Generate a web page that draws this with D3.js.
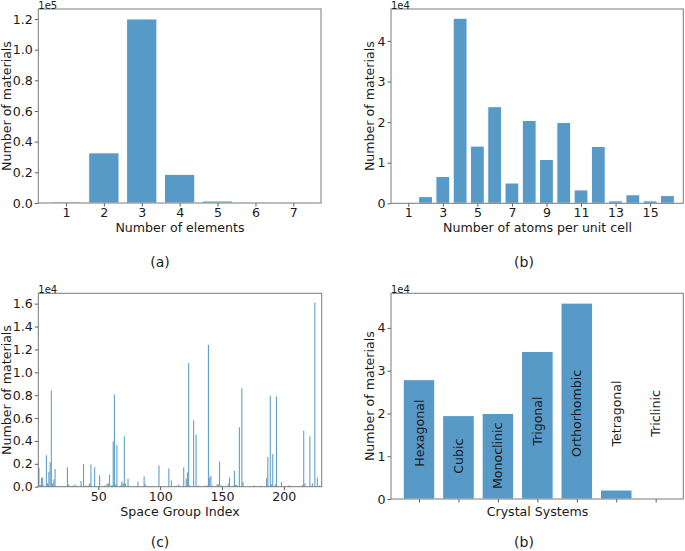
<!DOCTYPE html>
<html>
<head>
<meta charset="utf-8">
<script src="https://cdn.jsdelivr.net/npm/d3@7"></script>
<style>
  html, body { margin: 0; padding: 0; background: #fff; }
  svg { display: block; }
  text { font-family: "DejaVu Sans", sans-serif; fill: #1a1a1a; }
</style>
</head>
<body>
<svg id="chart" width="685" height="551"></svg>
<script>
// ---------------- DATA ----------------
// (a) number of elements
const elementCats = [1, 2, 3, 4, 5, 6, 7];
const elementCounts = [800, 32700, 120000, 18700, 1300, 100, 20];
const elementYTicks = [0, 20000, 40000, 60000, 80000, 100000, 120000];

// (b) number of atoms per unit cell
const atomCats = [1, 2, 3, 4, 5, 6, 7, 8, 9, 10, 11, 12, 13, 14, 15, 16];
const atomCounts = [200, 1650, 6600, 45600, 14100, 23800, 5000, 20400, 10800, 19900, 3300, 14000, 600, 2100, 600, 1900];
const atomXTicks = [1, 3, 5, 7, 9, 11, 13, 15];
const atomYTicks = [0, 10000, 20000, 30000, 40000];

// (c) space group index
const sgIndex = [2, 3, 4, 5, 6, 8, 9, 10, 11, 12, 13, 14, 15, 19, 21, 23, 25, 26, 29, 31, 33, 36, 38, 40, 42, 43, 44, 47, 51, 55, 57, 58, 59, 61, 62, 63, 64, 65, 68, 69, 70, 71, 72, 74, 82, 87, 88, 99, 107, 109, 113, 115, 119, 121, 122, 123, 124, 127, 129, 131, 136, 138, 139, 140, 141, 142, 146, 147, 148, 149, 155, 156, 159, 160, 161, 162, 164, 166, 167, 176, 181, 186, 187, 189, 190, 191, 193, 194, 198, 204, 205, 215, 216, 217, 221, 223, 225, 227, 229];
const sgCounts = [1650, 150, 800, 800, 100, 2750, 300, 1300, 2150, 8400, 300, 650, 1550, 60, 60, 60, 1700, 200, 100, 200, 100, 500, 2000, 100, 100, 300, 1950, 1700, 1000, 100, 250, 300, 1050, 150, 3950, 8050, 200, 3650, 100, 450, 300, 4400, 300, 700, 450, 900, 200, 1850, 1600, 550, 100, 200, 1700, 700, 1250, 10800, 100, 5800, 4550, 100, 100, 100, 12400, 800, 950, 100, 200, 200, 2200, 100, 250, 800, 100, 1400, 150, 150, 5200, 8600, 400, 100, 100, 750, 2600, 7950, 200, 2850, 200, 7900, 400, 100, 100, 150, 4900, 300, 4400, 300, 16100, 800, 100];
const sgXTicks = [50, 100, 150, 200];
const sgYTicks = [0, 2000, 4000, 6000, 8000, 10000, 12000, 14000, 16000];

// (d) crystal systems
const crystalSystems = ["Hexagonal", "Cubic", "Monoclinic", "Trigonal", "Orthorhombic", "Tetragonal", "Triclinic"];
const crystalCounts = [27900, 19500, 20000, 34500, 45800, 2100, 0];
const crystalYTicks = [0, 10000, 20000, 30000, 40000];
// label anchor heights (data units) for the rotated in-bar names
const crystalLabelY = [15400, 10000, 10100, 18200, 20000, 20000, 20000];

// ---------------- DRAWING ----------------
const svg = d3.select("#chart");
const BAR = "#1f77b4";
const FONT = 12.6;

function panel(o) {
  const g = svg.append("g");
  const x = d3.scaleLinear().domain(o.xDomain).range([o.x0, o.x1]);
  const y = d3.scaleLinear().domain(o.yDomain).range([o.y1, o.y0]);

  g.selectAll("rect.bar").data(o.cats.map((c, i) => ({c, v: o.vals[i]})))
    .join("rect")
    .attr("class", "bar")
    .attr("x", d => x(d.c - o.bw / 2))
    .attr("width", d => Math.max(o.minW || 0, x(d.c + o.bw / 2) - x(d.c - o.bw / 2)))
    .attr("y", d => y(d.v))
    .attr("height", d => y(0) - y(d.v))
    .attr("fill", BAR)
    .attr("fill-opacity", o.opacity || 0.75)
    .attr("stroke", o.stroke ? "#fff" : "none")
    .attr("stroke-width", o.stroke ? 1 : 0);

  const ya = d3.axisLeft(y).tickValues(o.yTicks).tickSize(3.5).tickPadding(2)
    .tickFormat(v => o.yFmt(v / o.scale));
  const yg = g.append("g").attr("transform", `translate(${o.x0},0)`).call(ya);
  yg.select(".domain").remove();
  yg.selectAll(".tick line").attr("stroke", "#333").attr("stroke-width", 0.8);
  yg.selectAll(".tick text").style("font-size", FONT + "px").attr("fill", "#1a1a1a");

  const xa = d3.axisBottom(x).tickValues(o.xTicks).tickSize(3.5).tickPadding(1.5)
    .tickFormat(o.xFmt || (v => v));
  const xg = g.append("g").attr("transform", `translate(0,${o.y1})`).call(xa);
  xg.select(".domain").remove();
  xg.selectAll(".tick line").attr("stroke", "#333").attr("stroke-width", 0.8);
  xg.selectAll(".tick text").style("font-size", FONT + "px").attr("fill", "#1a1a1a");

  g.append("rect").attr("x", o.x0).attr("y", o.y0)
    .attr("width", o.x1 - o.x0).attr("height", o.y1 - o.y0)
    .attr("fill", "none").attr("stroke", "#7a7a7a").attr("stroke-width", 1);

  g.append("text").attr("x", o.x0).attr("y", o.y0 - 0.5)
    .style("font-size", "10px").text(o.offset);

  g.append("text")
    .attr("transform", `translate(${o.yLabelX},${(o.y0 + o.y1) / 2}) rotate(-90)`)
    .attr("text-anchor", "middle").attr("dominant-baseline", "central")
    .style("font-size", FONT + "px").text("Number of materials");

  g.append("text").attr("x", o.xLabelX).attr("y", o.xLabelY)
    .attr("text-anchor", "middle").style("font-size", FONT + "px").text(o.xLabel);

  g.append("text").attr("x", o.capX).attr("y", o.capY)
    .attr("text-anchor", "middle").style("font-size", "14px").text(o.caption);

  return {g, x, y};
}

// (a)
panel({
  x0: 38.3, x1: 321, y0: 9, y1: 203,
  xDomain: [0.27, 7.73], yDomain: [0, 126500],
  cats: elementCats, vals: elementCounts, bw: 0.8, stroke: true,
  yTicks: elementYTicks, scale: 1e5, yFmt: d3.format(".1f"),
  xTicks: elementCats,
  offset: "1e5", yLabelX: 6.5, xLabel: "Number of elements", xLabelX: 180, xLabelY: 232,
  caption: "(a)", capX: 160, capY: 267
});

// (b)
panel({
  x0: 391, x1: 683.3, y0: 9, y1: 203.3,
  xDomain: [0, 16.92], yDomain: [0, 47880],
  cats: atomCats, vals: atomCounts, bw: 0.8, stroke: true,
  yTicks: atomYTicks, scale: 1e4, yFmt: d3.format("d"),
  xTicks: atomXTicks,
  offset: "1e4", yLabelX: 369, xLabel: "Number of atoms per unit cell", xLabelX: 537.5, xLabelY: 232,
  caption: "(b)", capX: 524, capY: 267
});

// (c)
panel({
  x0: 38.3, x1: 321.7, y0: 293.3, y1: 486.7,
  xDomain: [1.5, 230.6], yDomain: [0, 16905],
  cats: sgIndex, vals: sgCounts, bw: 0.8, stroke: false, opacity: 0.7, minW: 1.1,
  yTicks: sgYTicks, scale: 1e4, yFmt: d3.format(".1f"),
  xTicks: sgXTicks,
  offset: "1e4", yLabelX: 6.5, xLabel: "Space Group Index", xLabelX: 180, xLabelY: 516,
  caption: "(c)", capX: 160, capY: 547
});

// (d)
const pd = panel({
  x0: 391, x1: 683.3, y0: 293.3, y1: 499,
  xDomain: [-0.71, 6.7], yDomain: [0, 48090],
  cats: crystalSystems.map((s, i) => i), vals: crystalCounts, bw: 0.8, stroke: true,
  yTicks: crystalYTicks, scale: 1e4, yFmt: d3.format("d"),
  xTicks: crystalSystems.map((s, i) => i), xFmt: () => "",
  offset: "1e4", yLabelX: 369, xLabel: "Crystal Systems", xLabelX: 537.5, xLabelY: 516,
  caption: "(b)", capX: 524, capY: 547
});
pd.g.selectAll("text.cs").data(crystalSystems).join("text")
  .attr("class", "cs")
  .attr("transform", (d, i) => `translate(${pd.x(i)},${pd.y(crystalLabelY[i])}) rotate(-90)`)
  .attr("text-anchor", "middle").attr("dominant-baseline", "central")
  .style("font-size", FONT + "px").text(d => d);
</script>
</body>
</html>
